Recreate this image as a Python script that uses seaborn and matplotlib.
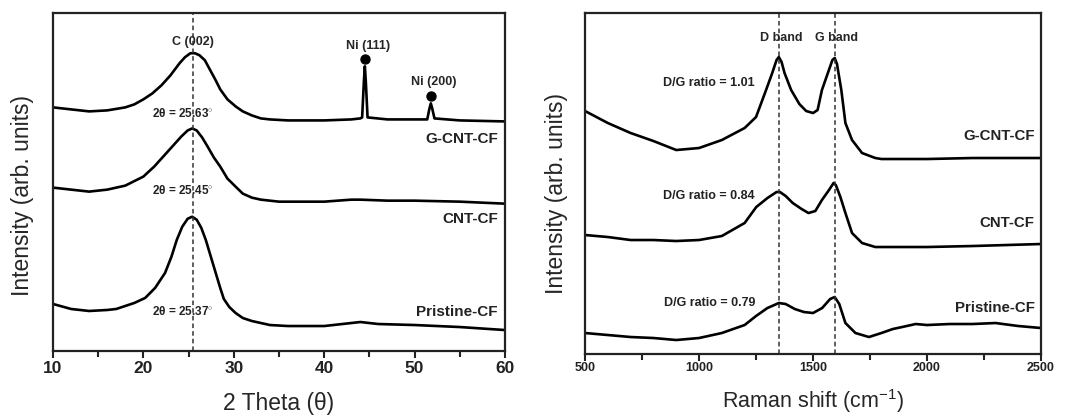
import numpy as np
import pandas as pd
import matplotlib
matplotlib.use("Agg")
import matplotlib.pyplot as plt
import seaborn as sns

# ---------------- XRD data (left) ----------------
xrd_gcnt_x = [10, 12, 14, 16, 18, 19, 20, 21, 22, 23, 24, 24.6, 25.2, 25.7, 26.2, 26.8, 27.4, 28, 28.5, 29.3, 30.2,
              31, 32, 33, 34, 36, 40, 43, 44, 44.2, 44.4, 44.5, 44.6, 44.8, 47, 51.4, 51.65, 51.8, 51.95, 52.2, 55, 60]
xrd_gcnt_y = [243, 241, 239, 240, 243, 246, 251, 257, 265, 275, 287, 293, 297, 297, 295, 290, 280, 270, 261, 251, 244,
              239, 235, 232, 231, 230, 230, 231, 232, 233, 270, 284, 270, 233, 231, 231, 242, 247, 242, 232, 230, 229]

xrd_cnt_x = [10, 12, 14, 16, 18, 20, 21.2, 22.2, 23.2, 24.2, 24.9, 25.4, 25.9, 26.5, 27.1, 27.8, 28.5, 29.3, 30.2,
             31, 32, 33, 35, 40, 43, 44, 47, 50, 55, 60]
xrd_cnt_y = [163, 161, 159, 161, 165, 174, 184, 194, 204, 214, 220, 222, 220, 213, 204, 193, 184, 172, 164,
             157, 153, 151, 149, 149, 151, 151, 150, 150, 149, 147]

xrd_pri_x = [10, 12, 14, 16, 17, 18, 19, 20.2, 21.3, 22.4, 23.1, 23.7, 24.3, 24.9, 25.4, 25.9, 26.4, 26.9, 27.5, 28,
             28.5, 28.9, 29.5, 30.2, 31, 32, 34, 36, 40, 42, 44, 46, 50, 55, 60]
xrd_pri_y = [47, 42, 40, 41, 42, 45, 48, 53, 63, 78, 94, 111, 124, 132, 134, 131, 123, 111, 93, 78,
             63, 52, 44, 38, 33, 30, 26, 25, 25, 27, 29, 27, 26, 24, 21]

# ---------------- Raman data (right) ----------------
ram_gcnt_x = [500, 600, 700, 800, 900, 1000, 1100, 1200, 1250, 1294, 1321, 1340, 1350, 1362, 1375, 1404, 1440, 1470,
              1500, 1520, 1539, 1565, 1585, 1595, 1605, 1624, 1642, 1671, 1715, 1773, 1800, 2000, 2200, 2500]
ram_gcnt_y = [243, 231, 221, 213, 204, 206, 214, 226, 237, 264, 281, 294, 297, 292, 281, 264, 250, 243,
              241, 244, 264, 281, 294, 296, 290, 264, 231, 214, 201, 196, 195, 195, 196, 196]

ram_cnt_x = [500, 600, 700, 800, 900, 1000, 1100, 1200, 1251, 1300, 1340, 1355, 1380, 1411, 1450, 1480, 1510, 1539,
             1570, 1590, 1600, 1620, 1642, 1671, 1715, 1773, 1800, 2000, 2200, 2500]
ram_cnt_y = [119, 117, 114, 114, 113, 114, 118, 131, 147, 156, 162, 162, 158, 151, 145, 141, 143, 154,
             164, 171, 169, 157, 141, 121, 111, 107, 107, 107, 108, 110]

ram_pri_x = [500, 600, 700, 800, 900, 1000, 1100, 1200, 1250, 1300, 1350, 1380, 1420, 1460, 1500, 1540, 1575, 1595,
             1615, 1642, 1686, 1745, 1800, 1850, 1891, 1950, 2000, 2100, 2200, 2300, 2400, 2500]
ram_pri_y = [21, 19, 17, 16, 14, 16, 21, 29, 38, 46, 51, 50, 45, 42, 41, 46, 55, 57,
             50, 31, 21, 17, 21, 25, 27, 30, 29, 30, 30, 31, 28, 26]

samples = ["G-CNT-CF", "CNT-CF", "Pristine-CF"]
xrd_ticks = [10, 20, 30, 40, 50, 60]
raman_ticks = [500, 1000, 1500, 2000, 2500]
xrd_peak_labels = ["2\u03b8 = 25.63$^{\\circ}$", "2\u03b8 = 25.45$^{\\circ}$", "2\u03b8 = 25.37$^{\\circ}$"]
dg_labels = ["D/G ratio = 1.01", "D/G ratio = 0.84", "D/G ratio = 0.79"]

sns.set_theme(style="ticks")
plt.rcParams["font.family"] = ["Liberation Sans", "DejaVu Sans"]
plt.rcParams["mathtext.fontset"] = "custom"
plt.rcParams["mathtext.rm"] = "Liberation Sans"
plt.rcParams["mathtext.it"] = "Liberation Sans:italic"
plt.rcParams["mathtext.bf"] = "Liberation Sans:bold"

xrd_df = pd.concat([
    pd.DataFrame({"x": xrd_gcnt_x, "y": xrd_gcnt_y, "s": samples[0]}),
    pd.DataFrame({"x": xrd_cnt_x, "y": xrd_cnt_y, "s": samples[1]}),
    pd.DataFrame({"x": xrd_pri_x, "y": xrd_pri_y, "s": samples[2]}),
])
ram_df = pd.concat([
    pd.DataFrame({"x": ram_gcnt_x, "y": ram_gcnt_y, "s": samples[0]}),
    pd.DataFrame({"x": ram_cnt_x, "y": ram_cnt_y, "s": samples[1]}),
    pd.DataFrame({"x": ram_pri_x, "y": ram_pri_y, "s": samples[2]}),
])

fig = plt.figure(figsize=(10.66, 4.16), dpi=100)
ax1 = fig.add_axes([0.0497, 0.156, 0.424, 0.8125])
ax2 = fig.add_axes([0.5488, 0.149, 0.4278, 0.8197])

pal = {s: "black" for s in samples}
for ax, df in ((ax1, xrd_df), (ax2, ram_df)):
    sns.lineplot(data=df, x="x", y="y", hue="s", units="s", estimator=None, palette=pal,
                 linewidth=1.9, legend=False, sort=False, ax=ax)
    for sp in ax.spines.values():
        sp.set_linewidth(1.6)
        sp.set_color("#222222")
    ax.set_yticks([])
    ax.tick_params(axis="x", which="major", direction="out", length=5, width=1.5, colors="#222222")
    ax.tick_params(axis="x", which="minor", direction="out", length=4, width=1.5, colors="#222222")

dash = (0, (3, 2))

# ---- left panel ----
ax1.set_xlim(10, 60)
ax1.set_ylim(0, 337)
ax1.set_xticks(xrd_ticks)
ax1.set_xticks([15, 25, 35, 45, 55], minor=True)
ax1.set_xticklabels([str(t) for t in xrd_ticks], fontsize=12.5, fontweight="bold")
ax1.tick_params(axis="x", pad=2)
ax1.set_xlabel("2 Theta (\u03b8)", fontsize=16.5)
ax1.xaxis.set_label_coords(0.5, -0.122)
ax1.set_ylabel("Intensity (arb. units)", fontsize=16.5)
ax1.yaxis.set_label_coords(-0.042, 0.46)
ax1.axvline(25.5, color="#333333", linestyle=dash, linewidth=1.1)

ax1.text(25.5, 308, "C (002)", ha="center", va="center", fontsize=9, fontweight="bold")
ax1.text(44.9, 304, "Ni (111)", ha="center", va="center", fontsize=9, fontweight="bold")
ax1.text(52.1, 268, "Ni (200)", ha="center", va="center", fontsize=9, fontweight="bold")
ax1.scatter([44.5, 51.8], [291, 254], s=42, color="black", zorder=5)
for lab, yy in zip(xrd_peak_labels, [237, 160, 39]):
    ax1.text(24.4, yy, lab, ha="center", va="center", fontsize=8.5, fontweight="bold", color="#222222")
for lab, yy in zip(samples, [211, 132, 39]):
    ax1.text(59.2, yy, lab, ha="right", va="center", fontsize=11, fontweight="bold", color="#222222")

# ---- right panel ----
ax2.set_xlim(500, 2500)
ax2.set_ylim(0, 341)
ax2.set_xticks(raman_ticks)
ax2.set_xticks([750, 1250, 1750, 2250], minor=True)
ax2.set_xticklabels([str(t) for t in raman_ticks], fontsize=9, fontweight="bold")
ax2.tick_params(axis="x", pad=1)
ax2.set_xlabel("Raman shift (cm$^{-1}$)", fontsize=15.5)
ax2.xaxis.set_label_coords(0.5, -0.098)
ax2.set_ylabel("Intensity (arb. units)", fontsize=16.5)
ax2.yaxis.set_label_coords(-0.037, 0.472)
ax2.axvline(1350, color="#333333", linestyle=dash, linewidth=1.1)
ax2.axvline(1595, color="#333333", linestyle=dash, linewidth=1.1)
ax2.text(1360, 316, "D band", ha="center", va="center", fontsize=9, fontweight="bold")
ax2.text(1605, 316, "G band", ha="center", va="center", fontsize=9, fontweight="bold")
for lab, yy in zip(dg_labels, [271, 158, 51]):
    ax2.text(1045, yy, lab, ha="center", va="center", fontsize=9, fontweight="bold", color="#222222")
for lab, yy in zip(samples, [218, 131, 46]):
    ax2.text(2471, yy, lab, ha="right", va="center", fontsize=10.8, fontweight="bold", color="#222222")

fig.savefig("out.png", dpi=100)
